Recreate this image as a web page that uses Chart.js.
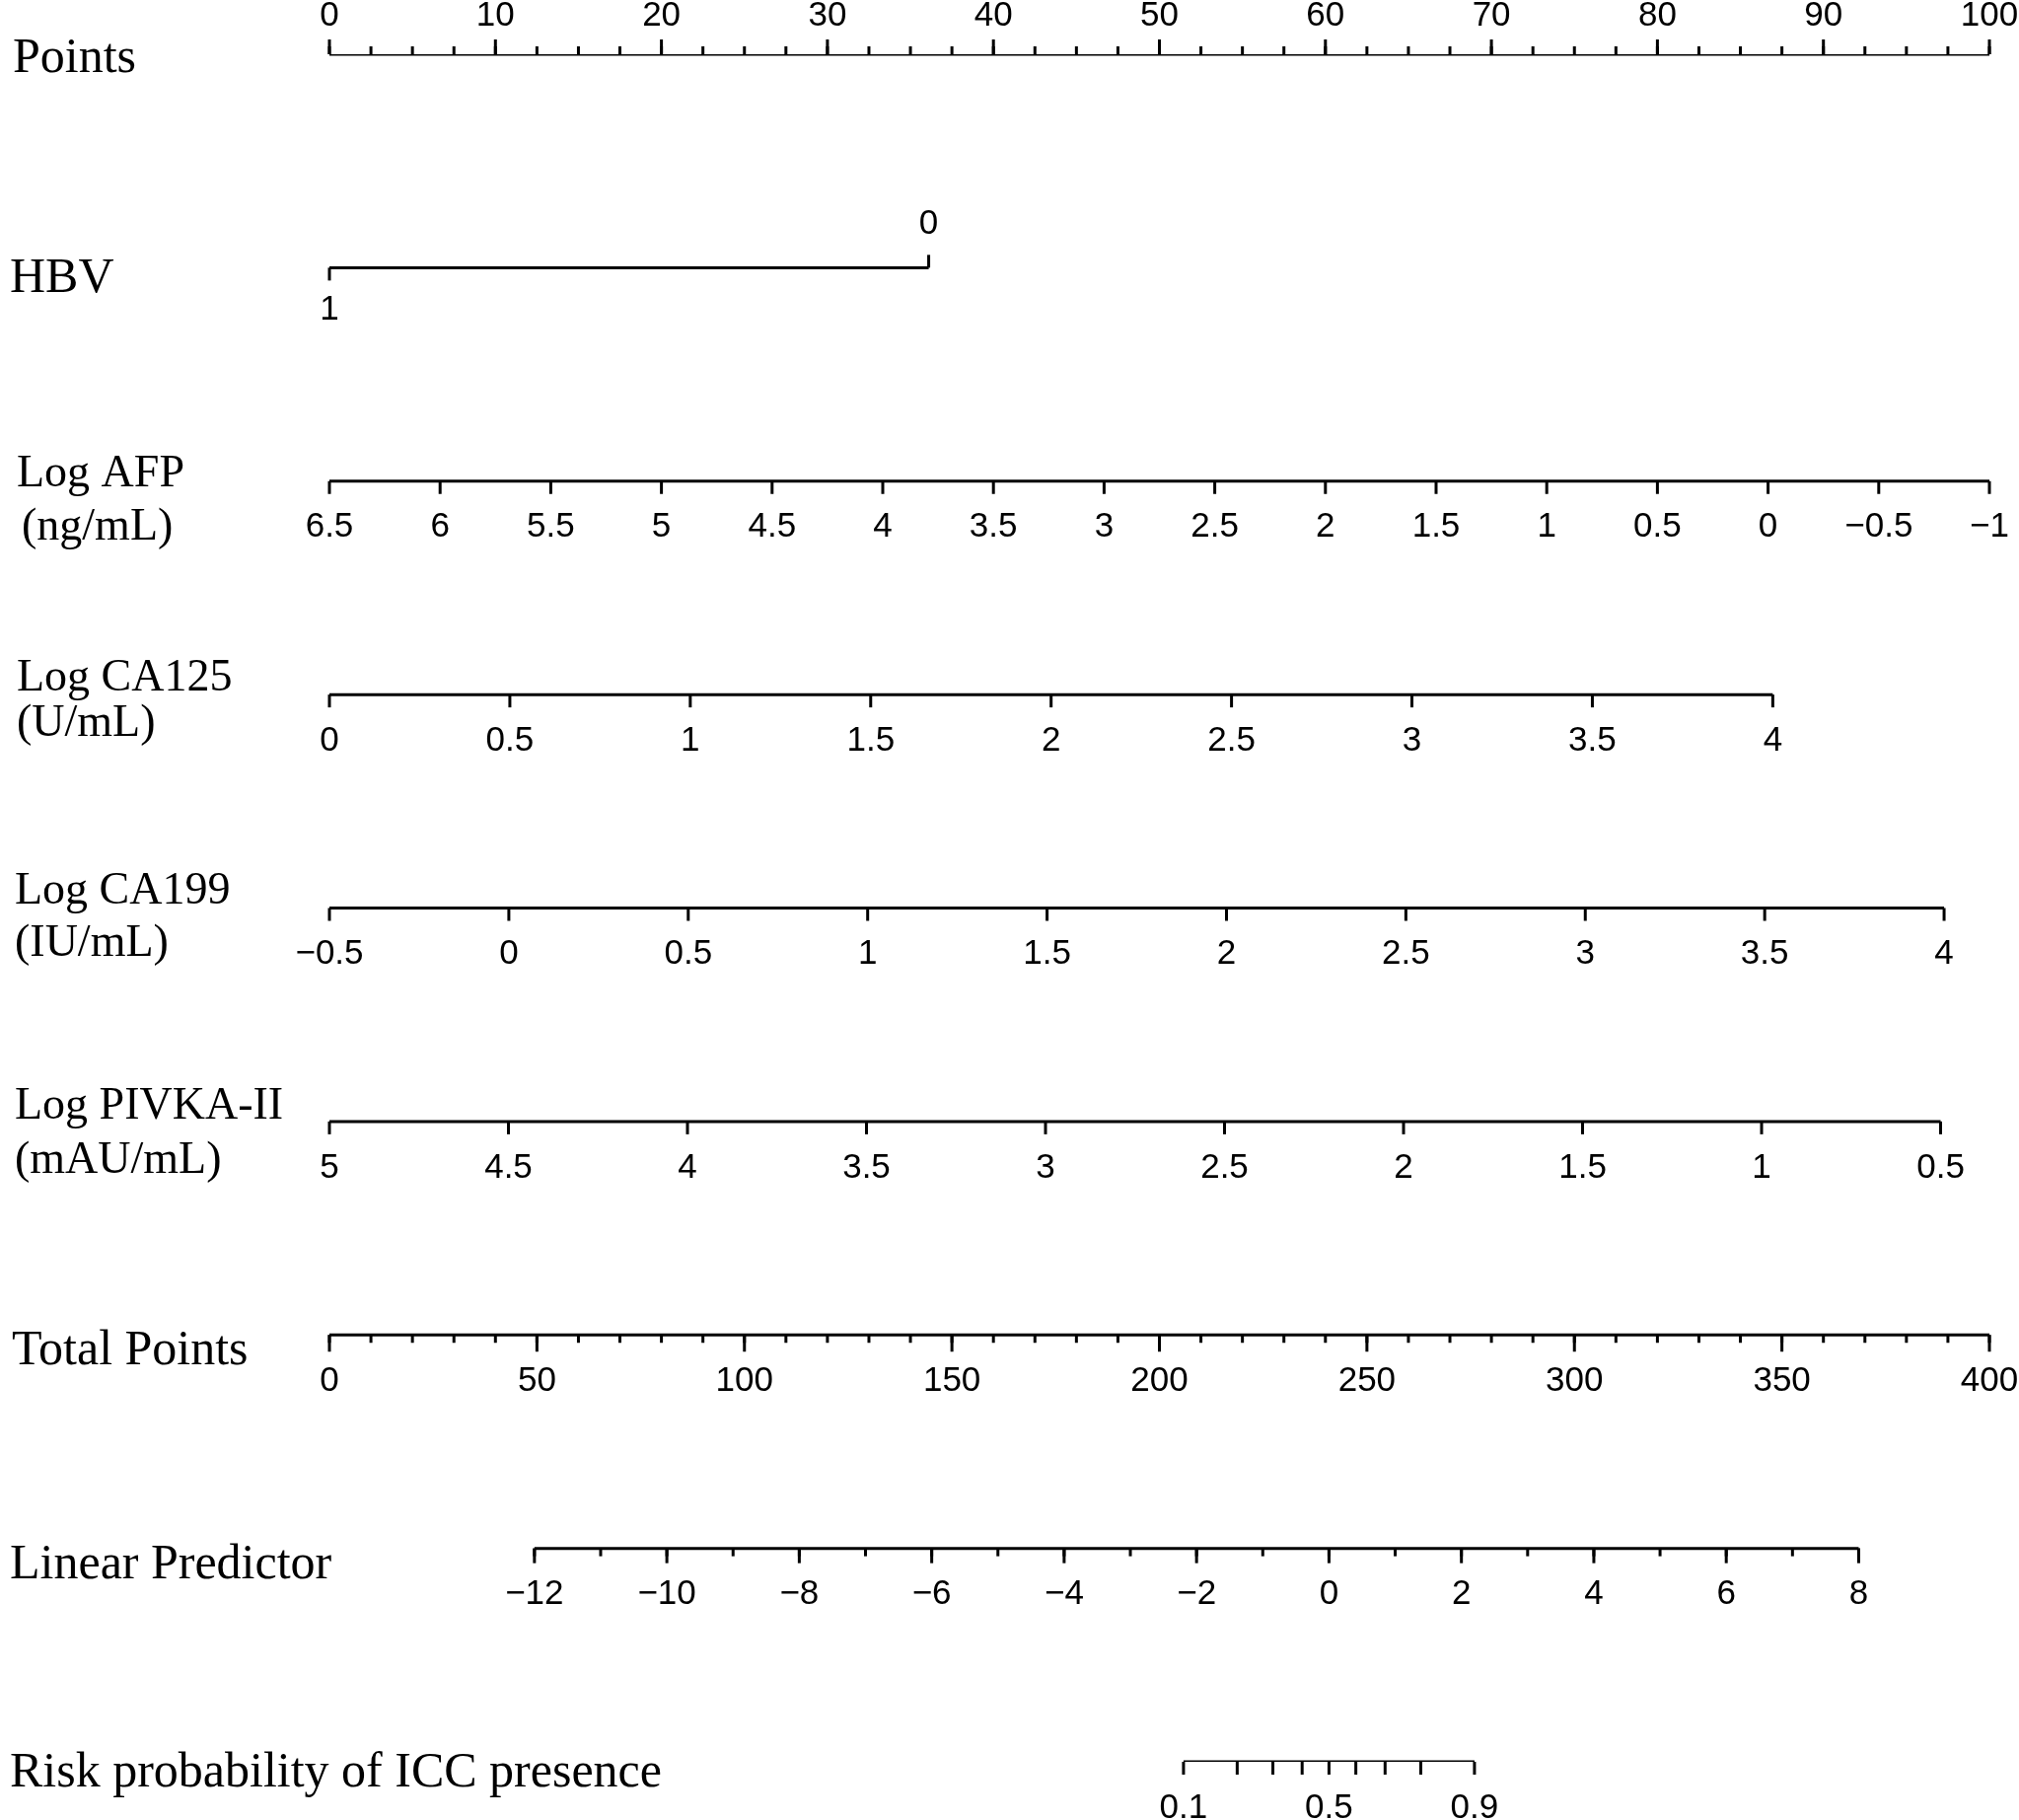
<!DOCTYPE html>
<html>
<head>
<meta charset="utf-8">
<script src="https://cdn.jsdelivr.net/npm/chart.js@4.4.1/dist/chart.umd.min.js"></script>
<style>
  html, body { margin: 0; padding: 0; background: #fff; }
  canvas { display: block; }
</style>
</head>
<body>
<canvas id="nomogram" width="2047" height="1845" style="width:2047px;height:1845px"></canvas>
<script>
// Values
const pointsLabels = [0, 10, 20, 30, 40, 50, 60, 70, 80, 90, 100];
const pointsMinorStep = 2.5;

const hbvValues = [1, 0];
const hbvPoints = [0, 36.1];

const afpTicks = [6.5, 6, 5.5, 5, 4.5, 4, 3.5, 3, 2.5, 2, 1.5, 1, 0.5, 0, -0.5, -1];
const afpRange = [6.5, -1];        // value at 0 points, value at end
const afpPointsRange = [0, 100];

const ca125Ticks = [0, 0.5, 1, 1.5, 2, 2.5, 3, 3.5, 4];
const ca125Range = [0, 4];
const ca125PointsRange = [0, 86.95];

const ca199Ticks = [-0.5, 0, 0.5, 1, 1.5, 2, 2.5, 3, 3.5, 4];
const ca199Range = [-0.5, 4];
const ca199PointsRange = [0, 97.27];

const pivkaTicks = [5, 4.5, 4, 3.5, 3, 2.5, 2, 1.5, 1, 0.5];
const pivkaRange = [5, 0.5];
const pivkaPointsRange = [0, 97.06];

const totalLabels = [0, 50, 100, 150, 200, 250, 300, 350, 400];
const totalMinorStep = 10;
const totalMax = 400;

const lpLabels = [-12, -10, -8, -6, -4, -2, 0, 2, 4, 6, 8];
const lpMinorStep = 1;
const lpRange = [-12, 8];
const lpTotalRange = [49.4, 368.5];  // total points at each end of the predictor axis

const riskTicks = [0.1, 0.2, 0.3, 0.4, 0.5, 0.6, 0.7, 0.8, 0.9];
const riskLabels = [0.1, 0.5, 0.9];

// linear map of a variable onto the Points scale
function lin(range, ptsRange) {
    return v => ptsRange[0] + (v - range[0]) / (range[1] - range[0]) * (ptsRange[1] - ptsRange[0]);
}
const totalToPts = t => t / totalMax * 100;
const lpToPts = v => totalToPts(lin(lpRange, lpTotalRange)(v));
const riskToPts = p => lpToPts(Math.log(p / (1 - p)));

function fmt(v) {
    return v < 0 ? '\u2212' + String(-v) : String(v);
}
function steps(a, b, s) {
    const out = [];
    for (let v = a; v <= b + 1e-9; v += s) out.push(+v.toFixed(4));
    return out;
}

// one entry per nomogram row (row index = vertical slot)
// title lines: [text, baseline offset from axis line, left x, font size]
const axes = [
    { row: 0, title: [['Points', 18, 13, 50]], map: v => v, ticks: pointsLabels, labels: pointsLabels,
      minor: steps(0, 100, pointsMinorStep), up: true, major: 15 },
    { row: 1, title: [['HBV', 25, 10, 50]], map: lin([1, 0], hbvPoints), ticks: [], labels: [], hbv: true },
    { row: 2, title: [['Log AFP', 5, 17, 46], ['(ng/mL)', 59, 22, 46]], map: lin(afpRange, afpPointsRange),
      ticks: afpTicks, labels: afpTicks },
    { row: 3, title: [['Log CA125', -4, 17, 46], ['(U/mL)', 42, 17, 46]], map: lin(ca125Range, ca125PointsRange),
      ticks: ca125Ticks, labels: ca125Ticks },
    { row: 4, title: [['Log CA199', -5, 15, 46], ['(IU/mL)', 48, 15, 46]], map: lin(ca199Range, ca199PointsRange),
      ticks: ca199Ticks, labels: ca199Ticks },
    { row: 5, title: [['Log PIVKA-II', -3, 15, 46], ['(mAU/mL)', 52, 15, 46]], map: lin(pivkaRange, pivkaPointsRange),
      ticks: pivkaTicks, labels: pivkaTicks },
    { row: 6, title: [['Total Points', 30, 12, 50]], map: totalToPts, ticks: totalLabels, labels: totalLabels,
      minor: steps(0, totalMax, totalMinorStep), major: 17 },
    { row: 7, title: [['Linear Predictor', 30, 10, 50]], map: lpToPts, ticks: lpLabels, labels: lpLabels,
      minor: steps(lpRange[0], lpRange[1], lpMinorStep), major: 15 },
    { row: 8, title: [['Risk probability of ICC presence', 25, 10, 50]], map: riskToPts, ticks: riskTicks,
      labels: riskLabels }
];

function axisEnds(a) {
    if (a.hbv) return [a.map(hbvValues[0]), a.map(hbvValues[1])];
    const vals = a.ticks.map(a.map);
    return [Math.min(...vals), Math.max(...vals)];
}

const datasets = axes.map(a => {
    const [x0, x1] = axisEnds(a);
    return {
        data: [{ x: x0, y: a.row }, { x: x1, y: a.row }],
        showLine: true,
        borderColor: '#000',
        borderWidth: 3,
        pointRadius: 0,
        borderCapStyle: 'butt'
    };
});

const nomogramPlugin = {
    id: 'nomogram',
    afterDatasetsDraw(chart) {
        const ctx = chart.ctx;
        const xs = chart.scales.x, ys = chart.scales.y;
        ctx.save();
        ctx.strokeStyle = '#000';
        ctx.fillStyle = '#000';
        ctx.lineWidth = 3;

        const tick = (px, py, len) => {
            ctx.beginPath();
            ctx.moveTo(px, py);
            ctx.lineTo(px, py + len);
            ctx.stroke();
        };

        axes.forEach(a => {
            const py = ys.getPixelForValue(a.row);

            // row title
            ctx.textAlign = 'left';
            ctx.textBaseline = 'alphabetic';
            a.title.forEach(t => {
                ctx.font = t[3] + 'px "Liberation Serif", "Times New Roman", serif';
                ctx.fillText(t[0], t[2], py + t[1]);
            });

            ctx.font = '35px "Liberation Sans", Arial, sans-serif';
            ctx.textAlign = 'center';
            ctx.textBaseline = 'middle';

            if (a.hbv) {
                const p1 = xs.getPixelForValue(a.map(hbvValues[0]));
                const p0 = xs.getPixelForValue(a.map(hbvValues[1]));
                tick(p1, py, 13);
                tick(p0, py, -13);
                ctx.fillText(String(hbvValues[0]), p1, py + 43);
                ctx.fillText(String(hbvValues[1]), p0, py - 44);
                return;
            }

            const dir = a.up ? -1 : 1;
            if (a.minor) {
                a.minor.forEach(v => tick(xs.getPixelForValue(a.map(v)), py, dir * 8));
            }
            const majLen = a.major || 13;
            a.ticks.forEach(v => tick(xs.getPixelForValue(a.map(v)), py, dir * majLen));
            a.labels.forEach(v => {
                const px = xs.getPixelForValue(a.map(v));
                ctx.fillText(fmt(v), px, a.up ? py - 39 : py + 47);
            });
        });
        ctx.restore();
    }
};

new Chart(document.getElementById('nomogram'), {
    type: 'scatter',
    data: { datasets },
    options: {
        responsive: false,
        animation: false,
        devicePixelRatio: 1,
        layout: { padding: { left: 334, right: 30, top: 55, bottom: 59 } },
        plugins: { legend: { display: false }, tooltip: { enabled: false } },
        scales: {
            x: { type: 'linear', min: 0, max: 100, display: false },
            y: { type: 'linear', min: 0, max: 8, reverse: true, display: false }
        }
    },
    plugins: [nomogramPlugin]
});
</script>
</body>
</html>
